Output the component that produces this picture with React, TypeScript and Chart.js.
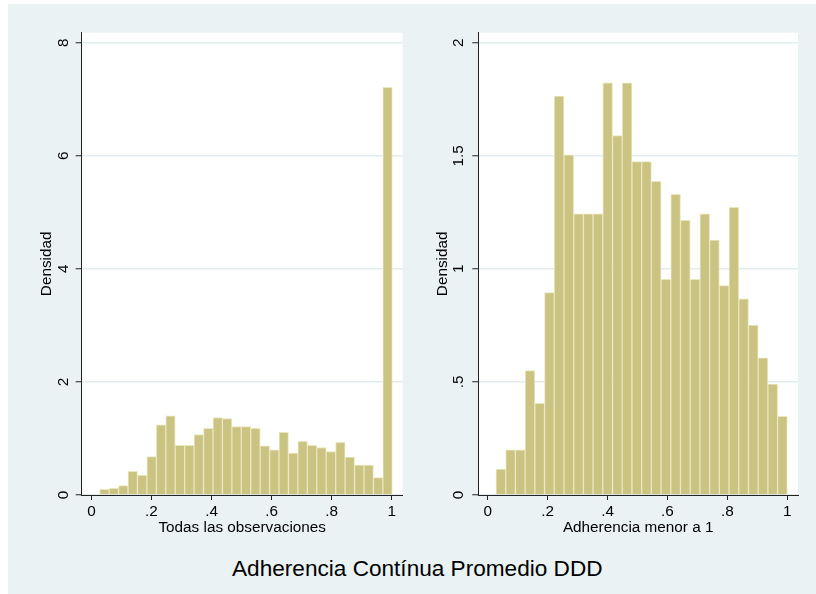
import React, { useEffect, useRef } from 'react';
import { Chart, registerables } from 'chart.js';

Chart.register(...registerables);

// ---- Data ----
const allObsBinStart = 0.0277;
const allObsBinWidth = 0.03143;
const allObsDensity = [
  0.10, 0.12, 0.165, 0.42, 0.35, 0.68, 1.24, 1.40, 0.88, 0.88,
  1.07, 1.18, 1.37, 1.35, 1.21, 1.21, 1.18, 0.87, 0.80, 1.11,
  0.74, 0.95, 0.88, 0.84, 0.77, 0.93, 0.67, 0.53, 0.53, 0.31,
  7.21,
];

const belowOneBinStart = 0.0277;
const belowOneBinWidth = 0.03241;
const belowOneDensity = [
  0.115, 0.20, 0.20, 0.55, 0.405, 0.895, 1.764, 1.504, 1.243, 1.243,
  1.243, 1.822, 1.589, 1.822, 1.474, 1.474, 1.387, 0.954, 1.33, 1.214,
  0.954, 1.243, 1.127, 0.926, 1.272, 0.867, 0.751, 0.607, 0.49, 0.348,
];

const xTickValues = [0, 0.2, 0.4, 0.6, 0.8, 1];
const xTickLabels = ['0', '.2', '.4', '.6', '.8', '1'];
const leftYTickValues = [0, 2, 4, 6, 8];
const leftYTickLabels = ['0', '2', '4', '6', '8'];
const rightYTickValues = [0, 0.5, 1, 1.5, 2];
const rightYTickLabels = ['0', '.5', '1', '1.5', '2'];

const yTitle = 'Densidad';
const leftXTitle = 'Todas las observaciones';
const rightXTitle = 'Adherencia menor a 1';
const mainTitle = 'Adherencia Contínua Promedio DDD';

// ---- Styles ----
const FONT = "'Liberation Sans', Arial, Helvetica, sans-serif";
const FS = 15.3;
const BG = '#EAF2F3';
const BAR_FILL = 'rgb(203,195,129)';
const BAR_EDGE = 'rgb(234,230,190)';
const GRID = '#E2EBED';
const AXIS = '#222';
const TEXT = '#000';

const plotBg = {
  id: 'plotBg',
  beforeDraw(chart: any) {
    const { ctx, chartArea } = chart;
    if (!chartArea) return;
    ctx.save();
    ctx.fillStyle = '#ffffff';
    ctx.fillRect(chartArea.left, chartArea.top, chartArea.right - chartArea.left, chartArea.bottom - chartArea.top);
    ctx.restore();
  },
};

type PanelSpec = {
  left: number;
  top: number;
  width: number;
  height: number;
  padLeft: number;
  padTop: number;
  padRight: number;
  padBottom: number;
  yAxisWidth: number;
  yTitlePad: number;
  yTickPad: number;
  xMin: number;
  xMax: number;
  yMax: number;
  binStart: number;
  binWidth: number;
  density: number[];
  yTicks: number[];
  yLabels: string[];
  xTitle: string;
};

function Panel({ spec }: { spec: PanelSpec }) {
  const ref = useRef<HTMLCanvasElement | null>(null);
  useEffect(() => {
    if (!ref.current) return;
    const points = spec.density.map((d, i) => ({
      x: spec.binStart + (i + 0.5) * spec.binWidth,
      y: d,
    }));
    const chart = new Chart(ref.current, {
      type: 'bar',
      data: {
        datasets: [
          {
            data: points as any,
            backgroundColor: BAR_FILL,
            borderColor: BAR_EDGE,
            borderWidth: 1,
            barPercentage: 1,
            categoryPercentage: 1,
          },
        ],
      },
      options: {
        responsive: false,
        animation: false,
        devicePixelRatio: 1,
        layout: {
          padding: { left: spec.padLeft, top: spec.padTop, right: spec.padRight, bottom: spec.padBottom },
        },
        plugins: {
          legend: { display: false },
          tooltip: { enabled: false },
          title: { display: false },
        },
        scales: {
          x: {
            type: 'linear',
            offset: false,
            min: spec.xMin,
            max: spec.xMax,
            afterBuildTicks: (scale: any) => {
              scale.ticks = xTickValues.map((v) => ({ value: v }));
            },
            afterFit: (scale: any) => {
              scale.height = 42;
            },
            ticks: {
              autoSkip: false,
              maxRotation: 0,
              minRotation: 0,
              padding: 2.8,
              color: TEXT,
              font: { family: FONT, size: FS },
              callback: (v: any) => {
                const i = xTickValues.findIndex((t) => Math.abs(t - Number(v)) < 1e-9);
                return i >= 0 ? xTickLabels[i] : '';
              },
            },
            grid: {
              display: true,
              offset: false,
              drawOnChartArea: false,
              drawTicks: true,
              tickLength: 5,
              tickColor: AXIS,
              tickWidth: 1,
            },
            border: { display: true, color: AXIS, width: 1 },
            title: {
              display: true,
              text: spec.xTitle,
              color: TEXT,
              font: { family: FONT, size: FS },
              padding: { top: 0, bottom: -0.2 },
            },
          },
          y: {
            type: 'linear',
            min: 0,
            max: spec.yMax,
            afterBuildTicks: (scale: any) => {
              scale.ticks = spec.yTicks.map((v) => ({ value: v }));
            },
            afterFit: (scale: any) => {
              scale.width = spec.yAxisWidth;
            },
            ticks: {
              autoSkip: false,
              minRotation: 90,
              maxRotation: 90,
              crossAlign: 'center',
              padding: spec.yTickPad,
              color: TEXT,
              font: { family: FONT, size: FS },
              callback: (v: any) => {
                const i = spec.yTicks.findIndex((t) => Math.abs(t - Number(v)) < 1e-9);
                return i >= 0 ? spec.yLabels[i] : '';
              },
            },
            grid: {
              display: true,
              drawOnChartArea: true,
              drawTicks: true,
              tickLength: 6,
              color: GRID,
              lineWidth: 1.5,
              tickColor: AXIS,
              tickWidth: 1,
            },
            border: { display: true, color: AXIS, width: 1 },
            title: {
              display: true,
              text: yTitle,
              color: TEXT,
              font: { family: FONT, size: FS },
              padding: { top: spec.yTitlePad, bottom: 0 },
            },
          },
        },
      } as any,
      plugins: [plotBg],
    });
    return () => chart.destroy();
  }, [spec]);

  return (
    <canvas
      ref={ref}
      width={spec.width}
      height={spec.height}
      style={{ position: 'absolute', left: spec.left, top: spec.top, width: spec.width, height: spec.height }}
    />
  );
}

// Container is placed at page (8, 4); coordinates below are relative to it.
const leftSpec: PanelSpec = {
  left: 0,
  top: 0,
  width: 402,
  height: 545,
  padLeft: 10,
  padTop: 28.7,
  padRight: 402 - 394.7,
  padBottom: 12,
  yAxisWidth: 63.7,
  yTitlePad: 19.8,
  yTickPad: 7.6,
  xMin: -0.03233,
  xMax: 1.03667,
  yMax: 8.1768,
  binStart: allObsBinStart,
  binWidth: allObsBinWidth,
  density: allObsDensity,
  yTicks: leftYTickValues,
  yLabels: leftYTickLabels,
  xTitle: leftXTitle,
};

const rightSpec: PanelSpec = {
  left: 402,
  top: 0,
  width: 406,
  height: 545,
  padLeft: 10,
  padTop: 28.7,
  padRight: 18,
  padBottom: 12,
  yAxisWidth: 58.3,
  yTitlePad: 13.3,
  yTickPad: 2.6,
  xMin: -0.03137,
  xMax: 1.0357,
  yMax: 2.0442,
  binStart: belowOneBinStart,
  binWidth: belowOneBinWidth,
  density: belowOneDensity,
  yTicks: rightYTickValues,
  yLabels: rightYTickLabels,
  xTitle: rightXTitle,
};

export default function App() {
  return (
    <div
      style={{
        position: 'absolute',
        left: 8,
        top: 4,
        width: 808,
        height: 590,
        background: BG,
        overflow: 'hidden',
      }}
    >
      <Panel spec={leftSpec} />
      <Panel spec={rightSpec} />
      <div
        style={{
          position: 'absolute',
          left: 409.3,
          top: 551.85,
          transform: 'translateX(-50%)',
          whiteSpace: 'nowrap',
          fontFamily: FONT,
          fontSize: 22.6,
          lineHeight: '26px',
          color: TEXT,
        }}
      >
        {mainTitle}
      </div>
    </div>
  );
}
